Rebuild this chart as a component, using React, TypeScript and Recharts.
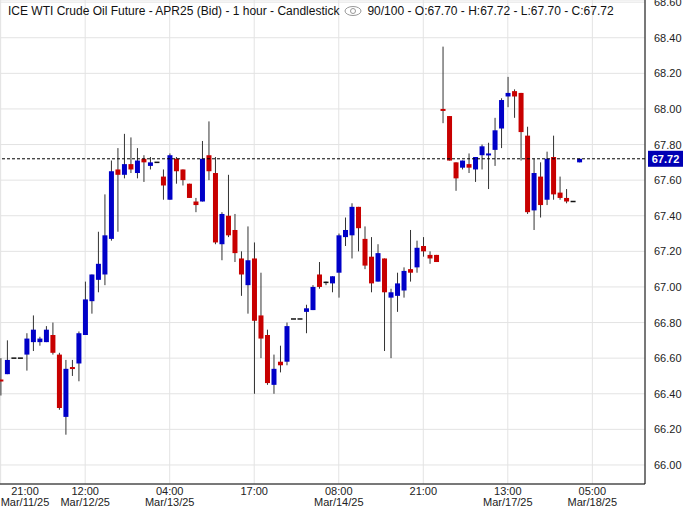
import {
  ComposedChart, Bar, XAxis, YAxis, CartesianGrid, ReferenceLine,
} from "recharts";

// hourly candles, left to right
const opens = [
  66.48, 66.51, 66.60, 66.60, 66.62, 66.69, 66.69, 66.69, 66.73, 66.62,
  66.27, 66.55, 66.57, 66.73, 66.92, 67.04, 67.07, 67.27, 67.66, 67.63,
  67.69, 67.64, 67.72, 67.68, 67.70, 67.62, 67.49, 67.72, 67.66, 67.58,
  67.48, 67.48, 67.74, 67.64, 67.24, 67.40, 67.32, 67.16, 67.01, 67.16,
  66.84, 66.73, 66.45, 66.58, 66.58, 66.82, 66.82, 66.86, 66.87, 67.07,
  67.03, 67.02, 67.08, 67.28, 67.29, 67.45, 67.27, 67.17, 67.03, 67.16,
  66.94, 66.95, 66.98, 67.10, 67.11, 67.23, 67.18, 67.18, 68.00, 67.96,
  67.70, 67.67, 67.69, 67.66, 67.74, 67.74, 67.77, 67.89, 68.07, 68.10,
  68.09, 67.85, 67.43, 67.62, 67.49, 67.73, 67.53, 67.50, 67.48, 67.70,
];
const highs = [
  66.60, 66.70, 66.60, 66.60, 66.74, 66.84, 66.72, 66.78, 66.80, 66.63,
  66.59, 66.59, 66.75, 67.03, 67.07, 67.31, 67.52, 67.71, 67.78, 67.86,
  67.84, 67.78, 67.74, 67.73, 67.70, 67.66, 67.75, 67.73, 67.66, 67.58,
  67.50, 67.82, 67.93, 67.73, 67.42, 67.63, 67.41, 67.20, 67.34, 67.25,
  67.08, 66.76, 66.62, 66.67, 66.80, 66.82, 66.82, 66.90, 67.01, 67.14,
  67.03, 67.06, 67.30, 67.39, 67.47, 67.45, 67.34, 67.28, 67.24, 67.16,
  66.99, 67.08, 67.11, 67.32, 67.26, 67.28, 67.20, 67.18, 68.35, 67.96,
  67.70, 67.71, 67.75, 67.73, 67.80, 67.81, 67.95, 68.06, 68.18, 68.11,
  68.09, 67.90, 67.72, 67.70, 67.76, 67.85, 67.62, 67.55, 67.48, 67.72,
];
const lows = [
  66.39, 66.51, 66.60, 66.60, 66.53, 66.64, 66.67, 66.69, 66.62, 66.31,
  66.17, 66.50, 66.47, 66.73, 66.85, 66.97, 67.01, 67.26, 67.31, 67.61,
  67.64, 67.61, 67.59, 67.66, 67.70, 67.49, 67.49, 67.58, 67.57, 67.50,
  67.42, 67.48, 67.60, 67.24, 67.15, 67.28, 67.14, 66.95, 66.85, 66.40,
  66.60, 66.45, 66.40, 66.52, 66.56, 66.82, 66.82, 66.74, 66.87, 66.99,
  67.01, 66.97, 66.94, 67.23, 67.16, 67.20, 67.10, 66.97, 67.03, 66.64,
  66.60, 66.86, 66.94, 67.03, 67.08, 67.17, 67.13, 67.14, 67.92, 67.71,
  67.54, 67.66, 67.64, 67.59, 67.66, 67.55, 67.68, 67.78, 68.01, 67.95,
  67.71, 67.41, 67.32, 67.39, 67.46, 67.49, 67.49, 67.47, 67.48, 67.70,
];
const closes = [
  66.47, 66.59, 66.60, 66.60, 66.71, 66.76, 66.71, 66.76, 66.63, 66.32,
  66.54, 66.54, 66.74, 66.93, 67.07, 67.13, 67.29, 67.65, 67.63, 67.69,
  67.66, 67.71, 67.70, 67.70, 67.70, 67.57, 67.74, 67.65, 67.60, 67.50,
  67.46, 67.72, 67.65, 67.25, 67.41, 67.29, 67.19, 67.07, 67.15, 66.81,
  66.71, 66.46, 66.54, 66.56, 66.78, 66.82, 66.82, 66.88, 67.00, 67.00,
  67.03, 67.06, 67.29, 67.32, 67.45, 67.33, 67.12, 67.02, 67.19, 66.97,
  66.97, 67.02, 67.09, 67.08, 67.22, 67.20, 67.16, 67.14, 67.99, 67.71,
  67.61, 67.71, 67.67, 67.73, 67.79, 67.75, 67.88, 68.05, 68.09, 68.07,
  67.87, 67.42, 67.64, 67.46, 67.72, 67.52, 67.50, 67.48, 67.48, 67.72,
];

const tickIdx = [0, 13, 26, 39, 52, 65, 78, 91];
const tickTime = ["21:00", "12:00", "04:00", "17:00", "08:00", "21:00", "13:00", "05:00"];
const tickDate = ["Mar/11/25", "Mar/12/25", "Mar/13/25", "", "Mar/14/25", "", "Mar/17/25", "Mar/18/25"];

const priceTicks = [66.0, 66.2, 66.4, 66.6, 66.8, 67.0, 67.2, 67.4, 67.6, 67.8, 68.0, 68.2, 68.4, 68.6];

const Y_MIN = 65.893;
const Y_MAX = 68.612;
const UP = "#0000c8";
const DOWN = "#c80000";
const FONT = "'Liberation Sans', Arial, sans-serif";

const data = opens.map((o, i) => ({
  idx: i, open: o, high: highs[i], low: lows[i], close: closes[i],
}));
const last = closes[closes.length - 1];

function Candle(props: any) {
  const { x, y, width, height, payload } = props;
  const { open, high, low, close } = payload;
  const k = height / (high - Y_MIN);
  const py = (v: number) => y + (high - v) * k;
  const cx = x + width / 2;
  if (open === close && high === low) {
    return <rect x={x} y={py(open) - 0.75} width={width} height={1.5} fill="#111" />;
  }
  const color = close > open ? UP : close < open ? DOWN : "#111";
  const top = py(Math.max(open, close));
  const bot = py(Math.min(open, close));
  const h = Math.max(bot - top, open === close ? 1.5 : 2);
  return (
    <g>
      <line x1={cx} x2={cx} y1={py(high)} y2={py(low)} stroke="#333" strokeWidth={1} />
      <rect x={x} y={top} width={width} height={h} fill={color} />
    </g>
  );
}

function TimeTick(props: any) {
  const { x, y, payload } = props;
  const i = tickIdx.indexOf(payload.value);
  if (i < 0) return null;
  const cx = Math.max(x, 25);
  return (
    <text x={cx} y={y} textAnchor="middle" fontSize={11} fill="#222" fontFamily={FONT}>
      <tspan x={cx} dy={3}>{tickTime[i]}</tspan>
      {tickDate[i] && <tspan x={cx} dy={10.5}>{tickDate[i]}</tspan>}
    </text>
  );
}

function PriceTick(props: any) {
  const { x, y, payload } = props;
  return (
    <text x={x} y={y} dy={4} textAnchor="start" fontSize={11} fill="#222" fontFamily={FONT}>
      {payload.value.toFixed(2)}
    </text>
  );
}

function LastTag(props: any) {
  const vb = props.viewBox;
  const x0 = vb.x + vb.width + 3;
  return (
    <g>
      <rect x={x0} y={vb.y - 8} width={35} height={16} fill="#0000b4" />
      <text x={x0 + 17.5} y={vb.y + 4} textAnchor="middle" fontSize={11} fontWeight="bold"
        fill="#fff" fontFamily={FONT}>{last.toFixed(2)}</text>
    </g>
  );
}

export default function App() {
  return (
    <div style={{ position: "absolute", left: 0, top: 0, width: 686, height: 507, background: "#fff" }}>
      <ComposedChart width={686} height={507} data={data} margin={{ top: 0, right: 0, left: 0, bottom: 0 }}>
        <CartesianGrid stroke="#e3e3e3" />
        <XAxis
          dataKey="idx"
          type="number"
          domain={[-0.1, 99.1]}
          ticks={tickIdx}
          interval={0}
          allowDataOverflow
          height={23}
          tick={<TimeTick />}
          tickLine={false}
          axisLine={{ stroke: "#000" }}
        />
        <YAxis
          orientation="right"
          type="number"
          domain={[Y_MIN, Y_MAX]}
          ticks={priceTicks}
          interval={0}
          allowDataOverflow
          width={41}
          tickSize={0}
          tickMargin={9}
          tick={<PriceTick />}
          tickLine={false}
          axisLine={{ stroke: "#000" }}
        />
        <Bar dataKey="high" barSize={5} shape={<Candle />} isAnimationActive={false} />
        <ReferenceLine y={last} stroke="#000" strokeDasharray="3 2" label={<LastTag />} />
      </ComposedChart>
      <div style={{
        position: "absolute", left: 8, top: 4, fontFamily: FONT, fontSize: 12, color: "#111",
        whiteSpace: "nowrap", display: "flex", alignItems: "center",
      }}>
        <span>ICE WTI Crude Oil Future - APR25 (Bid) - 1 hour - Candlestick</span>
        <svg width={20} height={12} style={{ margin: "0 4px" }}>
          <ellipse cx={10} cy={6} rx={8} ry={4.5} fill="none" stroke="#999" strokeWidth={1} />
          <circle cx={10} cy={6} r={2.5} fill="none" stroke="#999" strokeWidth={1} />
        </svg>
        <span>90/100 - O:67.70 - H:67.72 - L:67.70 - C:67.72</span>
      </div>
    </div>
  );
}
